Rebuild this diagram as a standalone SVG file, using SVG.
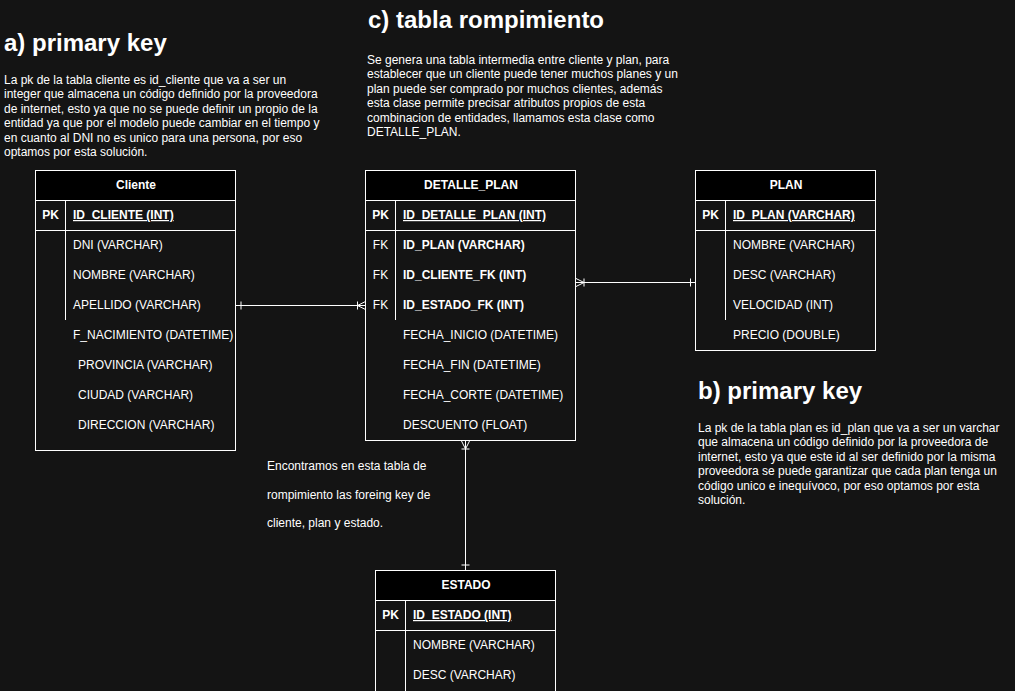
<svg xmlns="http://www.w3.org/2000/svg" width="1015" height="691" viewBox="0 0 1015 691">
<style>
text{font-family:"Liberation Sans",Arial,Helvetica,sans-serif;fill:#ffffff;font-size:12px}
.h1{font-size:24px;font-weight:bold}
.b{font-weight:bold}
.hd{font-weight:bold;text-anchor:middle}
.k{text-anchor:middle}
.u{font-weight:bold;text-decoration:underline}
.box{fill:#141414;stroke:#ffffff;stroke-width:1}
.head{fill:#000000;stroke:#ffffff;stroke-width:1}
.ln{stroke:#ffffff;stroke-width:1;fill:none}
.conn{stroke:#ffffff;stroke-width:1;fill:none}
</style>
<defs>
<marker id="many" markerUnits="userSpaceOnUse" viewBox="0 0 10 10" refX="10" refY="5" markerWidth="10" markerHeight="10" orient="auto-start-reverse" overflow="visible">
<path d="M10,1 L2,5 L10,9 M2,1 V9" stroke="#ffffff" stroke-width="1" fill="none"/>
</marker>
<marker id="one" markerUnits="userSpaceOnUse" viewBox="0 0 10 10" refX="10" refY="5" markerWidth="10" markerHeight="10" orient="auto-start-reverse" overflow="visible">
<path d="M5,1 V9" stroke="#ffffff" stroke-width="1" fill="none"/>
</marker>
</defs>
<rect x="0" y="0" width="1015" height="691" fill="#141414"/>

<g id="note-a">
<text x="4" y="51" class="h1">a) primary key</text>
<text x="4" y="83.5">La pk de la tabla cliente es id_cliente que va a ser un</text>
<text x="4" y="98">integer que almacena un código definido por la proveedora</text>
<text x="4" y="112.5">de internet, esto ya que no se puede definir un propio de la</text>
<text x="4" y="127">entidad ya que por el modelo puede cambiar en el tiempo y</text>
<text x="4" y="141.5">en cuanto al DNI no es unico para una persona, por eso</text>
<text x="4" y="155.5">optamos por esta solución.</text>
</g>

<g id="note-c">
<text x="368" y="28" class="h1">c) tabla rompimiento</text>
<text x="367" y="64">Se genera una tabla intermedia entre cliente y plan, para</text>
<text x="367" y="78.4">establecer que un cliente puede tener muchos planes y un</text>
<text x="367" y="92.8">plan puede ser comprado por muchos clientes, además</text>
<text x="367" y="107.2">esta clase permite precisar atributos propios de esta</text>
<text x="367" y="121.6">combinacion de entidades, llamamos esta clase como</text>
<text x="367" y="136">DETALLE_PLAN.</text>
</g>

<g id="note-b">
<text x="698" y="399" class="h1">b) primary key</text>
<text x="698" y="432">La pk de la tabla plan es id_plan que va a ser un varchar</text>
<text x="698" y="446.4">que almacena un código definido por la proveedora de</text>
<text x="698" y="460.8">internet, esto ya que este id al ser definido por la misma</text>
<text x="698" y="475.2">proveedora se puede garantizar que cada plan tenga un</text>
<text x="698" y="489.6">código unico e inequívoco, por eso optamos por esta</text>
<text x="698" y="504">solución.</text>
</g>

<g id="note-fk">
<text x="267" y="469.5">Encontramos en esta tabla de</text>
<text x="267" y="498.5">rompimiento las foreing key de</text>
<text x="267" y="527">cliente, plan y estado.</text>
</g>

<g id="cliente">
<rect x="35.5" y="170.5" width="200" height="280" class="box"/>
<rect x="35.5" y="170.5" width="200" height="30" class="head"/>
<line x1="35.5" y1="230.5" x2="235.5" y2="230.5" class="ln"/>
<line x1="65.5" y1="200.5" x2="65.5" y2="320" class="ln"/>
<text x="136" y="189" class="hd">Cliente</text>
<text x="50.5" y="219" class="hd">PK</text>
<text x="73" y="219" class="u">ID_CLIENTE (INT)</text>
<text x="73" y="249">DNI (VARCHAR)</text>
<text x="73" y="279">NOMBRE (VARCHAR)</text>
<text x="73" y="309">APELLIDO (VARCHAR)</text>
<text x="73" y="339">F_NACIMIENTO (DATETIME)</text>
<text x="78" y="369">PROVINCIA (VARCHAR)</text>
<text x="78" y="399">CIUDAD (VARCHAR)</text>
<text x="78" y="429">DIRECCION (VARCHAR)</text>
</g>

<g id="detalle_plan">
<rect x="365.5" y="170.5" width="210" height="270" class="box"/>
<rect x="365.5" y="170.5" width="210" height="30" class="head"/>
<line x1="365.5" y1="230.5" x2="575.5" y2="230.5" class="ln"/>
<line x1="395.5" y1="200.5" x2="395.5" y2="320" class="ln"/>
<text x="471" y="189" class="hd">DETALLE_PLAN</text>
<text x="380.5" y="219" class="hd">PK</text>
<text x="403" y="219" class="u">ID_DETALLE_PLAN (INT)</text>
<text x="380.5" y="249" class="k">FK</text>
<text x="403" y="249" class="b">ID_PLAN (VARCHAR)</text>
<text x="380.5" y="279" class="k">FK</text>
<text x="403" y="279" class="b">ID_CLIENTE_FK (INT)</text>
<text x="380.5" y="309" class="k">FK</text>
<text x="403" y="309" class="b">ID_ESTADO_FK (INT)</text>
<text x="403" y="339">FECHA_INICIO (DATETIME)</text>
<text x="403" y="369">FECHA_FIN (DATETIME)</text>
<text x="403" y="399">FECHA_CORTE (DATETIME)</text>
<text x="403" y="429">DESCUENTO (FLOAT)</text>
</g>

<g id="plan">
<rect x="695.5" y="170.5" width="180" height="180" class="box"/>
<rect x="695.5" y="170.5" width="180" height="30" class="head"/>
<line x1="695.5" y1="230.5" x2="875.5" y2="230.5" class="ln"/>
<line x1="725.5" y1="200.5" x2="725.5" y2="320" class="ln"/>
<text x="786" y="189" class="hd">PLAN</text>
<text x="710.5" y="219" class="hd">PK</text>
<text x="733" y="219" class="u">ID_PLAN (VARCHAR)</text>
<text x="733" y="249">NOMBRE (VARCHAR)</text>
<text x="733" y="279">DESC (VARCHAR)</text>
<text x="733" y="309">VELOCIDAD (INT)</text>
<text x="733" y="339">PRECIO (DOUBLE)</text>
</g>

<g id="estado">
<rect x="375.5" y="570.5" width="180" height="130" class="box"/>
<rect x="375.5" y="570.5" width="180" height="30" class="head"/>
<line x1="375.5" y1="630.5" x2="555.5" y2="630.5" class="ln"/>
<line x1="405.5" y1="600.5" x2="405.5" y2="691" class="ln"/>
<text x="466" y="589" class="hd">ESTADO</text>
<text x="390.5" y="619" class="hd">PK</text>
<text x="413" y="619" class="u">ID_ESTADO (INT)</text>
<text x="413" y="649">NOMBRE (VARCHAR)</text>
<text x="413" y="679">DESC (VARCHAR)</text>
</g>

<g id="connectors">
<path d="M236,305.5 H365.5" class="conn" marker-start="url(#one)" marker-end="url(#many)"/>
<path d="M695.5,282.5 H576" class="conn" marker-start="url(#one)" marker-end="url(#many)"/>
<path d="M465.5,570 V441" class="conn" marker-start="url(#one)" marker-end="url(#many)"/>
</g>
</svg>
